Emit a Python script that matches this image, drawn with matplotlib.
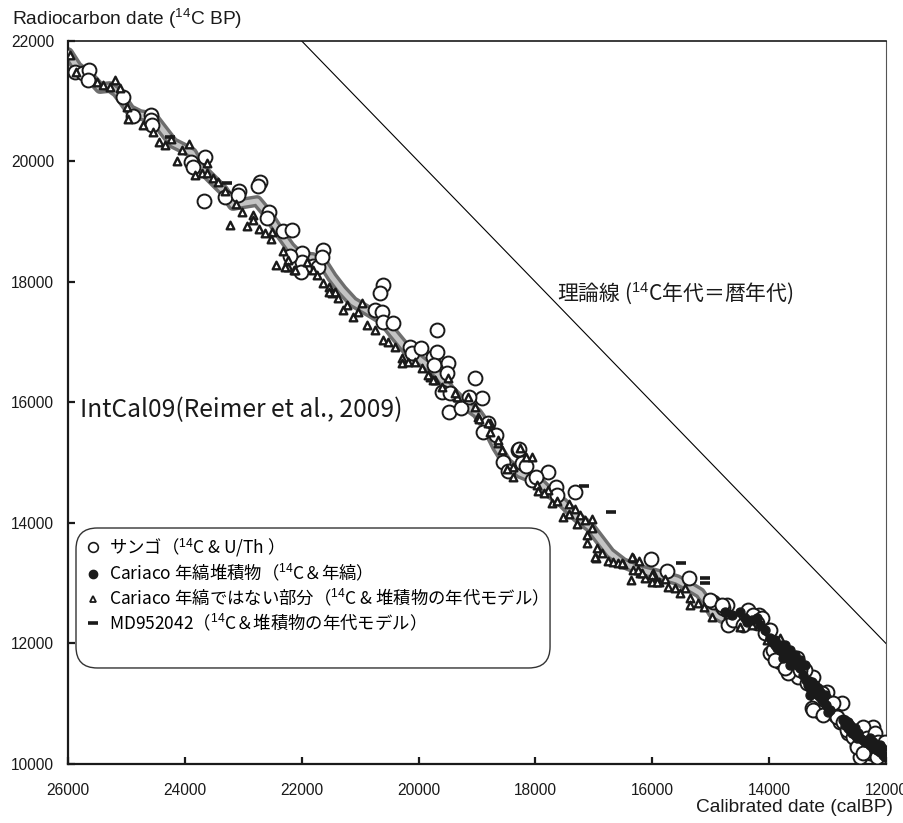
import matplotlib.pyplot as plt
from matplotlib.lines import Line2D
from matplotlib.patches import FancyBboxPatch
from matplotlib.font_manager import FontProperties

plt.rcParams['font.family'] = ['Liberation Sans', 'DejaVu Sans']
plt.rcParams['mathtext.fontset'] = 'custom'
plt.rcParams['mathtext.rm'] = 'Liberation Sans'
plt.rcParams['mathtext.it'] = 'Liberation Sans:italic'
plt.rcParams['mathtext.bf'] = 'Liberation Sans:bold'

JP = ['Noto Sans CJK JP', 'DejaVu Sans']

# IntCal09 calibration curve (cal BP, 14C BP)
curve_cal = [26000, 25846, 25624, 25452, 25281, 25161, 25059, 24939, 24768, 24545,
             24374, 24203, 24032, 23878, 23741, 23519, 23347, 23176, 22971, 22765,
             22594, 22372, 22201, 22030, 21807, 21636, 21482, 21311, 21122, 20831,
             20609, 20438, 20198, 19976, 19685, 19462, 19240, 19000, 18829, 18658,
             18487, 18264, 17973, 17751, 17528, 17289, 17066, 16895, 16724, 16501,
             16210, 15868, 15577, 15355, 15184, 15064, 14961, 14807]
curve_c14 = [21800, 21568, 21402, 21219, 21236, 21153, 21020, 20854, 20771, 20738,
             20522, 20307, 20224, 20141, 19908, 19692, 19526, 19277, 19311, 19344,
             19145, 18813, 18580, 18414, 18398, 18315, 18082, 17867, 17667, 17501,
             17369, 17153, 16871, 16705, 16489, 16207, 15991, 15825, 15593, 15261,
             14995, 14829, 14713, 14497, 14331, 14099, 13933, 13717, 13501, 13335,
             13219, 13136, 13053, 12937, 12837, 12671, 12505, 12422]

# corals (14C & U/Th)
coral_cal = [25880, 25743, 25641, 25658, 25059, 24888, 24580, 24580, 24562, 23895,
             23861, 23655, 23672, 23313, 23073, 23091, 22714, 22748, 22560, 22594,
             22320, 22166, 21995, 21995, 22012, 22201, 21807, 21721, 21636, 21653,
             20609, 20660, 20746, 20626, 20609, 20438, 20147, 20113, 19959, 19753,
             19685, 19685, 19736, 19497, 19599, 19462, 19479, 19274, 19034, 18915,
             18812, 18897, 18675, 18298, 18230, 18555, 18059, 17785, 19514, 19137,
             18470, 18281, 18161, 17990, 17648, 17631, 17323,
             16022, 15748, 15372, 14961, 14721, 14704, 14362, 14174, 14020, 13934,
             13643, 13472, 13250, 13181, 13061, 12873, 12753, 12787, 12650, 12496,
             12360, 12223, 12188, 12445, 12274, 12103, 12051, 14790, 13985, 13814,
             13386, 13506, 13010, 13266, 13130, 12616, 12496, 12240, 12137, 13677,
             12958, 12839,
             15012, 14807, 14619, 14448, 14276, 14122, 14071, 13934, 13900, 13729,
             13523, 13472, 13352, 13215, 13096, 13044, 13250, 13078, 12907, 12736,
             12668, 12565, 12394, 12325, 12496, 12188, 12137, 12394, 12154, 12017,
             14208, 13985]
coral_c14 = [21485, 21468, 21518, 21352, 21070, 20755, 20771, 20688, 20605, 19991,
             19908, 20074, 19344, 19410, 19510, 19443, 19659, 19593, 19161, 19062,
             18846, 18863, 18481, 18331, 18165, 18431, 18265, 18248, 18531, 18414,
             17950, 17817, 17535, 17501, 17335, 17319, 16921, 16821, 16904, 16755,
             17203, 16838, 16622, 16655, 16174, 16157, 15842, 15908, 16406, 16074,
             15659, 15510, 15460, 15211, 14995, 15012, 14713, 14846, 16489, 16091,
             14862, 15228, 14945, 14763, 14597, 14464, 14514,
             13402, 13203, 13086, 12688, 12638, 12306, 12555, 12472, 12223, 11808,
             11725, 11526, 11443, 11012, 10862, 10812, 11012, 10696, 10514, 10398,
             10514, 10613, 10348, 10115, 10182, 10281, 10182, 12588, 11842, 11692,
             11559, 11443, 11194, 10929, 10862, 10563, 10315, 10182, 10281, 11510,
             10978, 10779,
             12721, 12638, 12389, 12306, 12472, 12422, 12174, 11891, 11725, 11592,
             11758, 11559, 11344, 11227, 11178, 11061, 10895, 10812, 11012, 10696,
             10563, 10447, 10613, 10431, 10281, 10514, 10364, 10182, 10115, 10364,
             12339, 12223]

# Cariaco, non-varved part (14C & sediment age model)
tri_cal = [25966, 25863, 25504, 25401, 25281, 25196, 25110, 24990, 24973, 24717,
           24545, 24443, 24340, 24237, 24135, 24049, 23929, 23827, 23707, 23621,
           23519, 23433, 23621, 23313, 23125, 23022, 23228, 22937, 22834, 22834,
           22731, 22629, 22509, 22526, 22320, 22440, 22235, 22235, 22132, 21910,
           21807, 21739, 21636, 21533, 21482, 21430, 21225, 22286, 22115,
           21533, 21379, 21294, 21122, 20968, 21037, 20883, 20746, 20609, 20523,
           20404, 20284, 20284, 20181, 20061, 19942, 19805, 19719, 19599, 19497,
           19342, 19154, 18983, 18778, 18641, 18572, 18384, 18384, 18059, 17973,
           17785,
           19839, 19753, 19377, 19034, 18966, 18812, 18778, 18641, 18487, 18264,
           18161, 17956, 17853, 17717, 17631, 17528, 17426, 17426, 17323, 17237,
           17289, 17152, 17032, 17032, 17117, 17117, 16946, 16861, 16963, 16758,
           16673, 16587, 16501, 16330, 16227, 16330, 16210, 16364, 16125, 15988,
           15988, 15885, 15731, 15611,
           16981, 16518, 16347, 16245, 16176, 16005, 16005, 15919, 15782, 15440,
           15526, 15355, 15355, 15218, 15115, 14978, 14704, 14499, 14293, 14037,
           13814]
tri_c14 = [21767, 21485, 21319, 21269, 21236, 21352, 21219, 20904, 20705, 20605,
           20489, 20323, 20273, 20373, 20008, 20190, 20290, 19775, 19809, 19809,
           19726, 19659, 19975, 19510, 19294, 19161, 18945, 18929, 19111, 19028,
           18879, 18813, 18829, 18713, 18514, 18282, 18365, 18248, 18199, 18331,
           18199, 18116, 17983, 17916, 17817, 17833, 17618, 18248, 18199,
           17833, 17734, 17535, 17418, 17651, 17501, 17286, 17203, 17037, 17004,
           16921, 16738, 16655, 16672, 16672, 16572, 16423, 16373, 16257, 16406,
           16091, 16091, 15759, 15659, 15327, 15211, 14929, 14763, 15095, 14630,
           14547,
           16456, 16373, 16157, 15925, 15725, 15659, 15510, 15377, 14896, 15244,
           15095, 14530, 14497, 14331, 14364, 14099, 14315, 14149, 14232, 14132,
           13983, 14049, 14066, 13916, 13800, 13667, 13584, 13501, 13418, 13368,
           13352, 13335, 13319, 13418, 13368, 13219, 13169, 13053, 13086, 13169,
           13053, 13020, 12937, 12920,
           13435, 13335, 13435, 13219, 13169, 13136, 13020, 13020, 13070, 12920,
           12837, 12754, 12638, 12671, 12605, 12439, 12489, 12273, 12306, 12057,
           12091]

# Cariaco varved sediment (14C & varves)
dot_cal = [14756, 14636, 14499, 14413, 14379, 14293, 14208, 14157, 14071, 13985,
           13951, 13900, 13866, 13814, 13763, 13729, 13677, 13643, 13592, 13558,
           13523, 13472, 13421, 13369, 13335, 13301, 13250, 13215, 13164, 13130,
           13078, 13027, 12993, 12958, 12736, 12702, 12650, 12616, 12582, 12531,
           12496, 12445, 12394, 12360, 12325, 12274, 12223, 12171, 12154, 12103,
           12051, 12017,
           13900, 13814, 13729, 13643, 13558, 13643, 13472, 13386, 13266, 13215,
           13164, 13130, 13301, 13044, 12650, 12616, 12531, 12479, 12274, 12223,
           12103, 12069]
dot_c14 = [12522, 12472, 12522, 12422, 12356, 12389, 12422, 12306, 12223, 12091,
           12024, 11974, 11924, 11891, 11758, 11858, 11808, 11725, 11692, 11758,
           11642, 11592, 11476, 11393, 11310, 11261, 11227, 11194, 11144, 11111,
           11061, 10978, 10862, 10895, 10729, 10646, 10597, 10563, 10514, 10480,
           10431, 10431, 10398, 10364, 10364, 10315, 10265, 10315, 10231, 10198,
           10148, 10115,
           12057, 11974, 11974, 11891, 11808, 11642, 11725, 11642, 11360, 11310,
           11261, 11194, 11144, 11144, 10696, 10646, 10597, 10514, 10431, 10364,
           10315, 10265]

# MD952042
md_cal = [24254, 23279, 17169, 16707, 15509, 15098, 15098]
md_c14 = [20406, 19643, 14613, 14182, 13335, 13086, 13003]

# 1:1 line (14C age = calendar age)
theory = [26000, 12000]

fig = plt.figure(figsize=(9.04, 8.23), dpi=100)
ax = fig.add_axes([0.0752, 0.0717, 0.9049, 0.8785])

ax.plot(theory, theory, color='black', lw=0.8, zorder=1)

# calibration band: dark outline with lighter centre
ax.plot(curve_cal, curve_c14, color='#6e6e6e', lw=8.5,
        solid_capstyle='round', solid_joinstyle='round', zorder=2)
ax.plot(curve_cal, curve_c14, color='#c4c4c4', lw=3.6,
        solid_capstyle='round', solid_joinstyle='round', zorder=3)

ax.scatter(coral_cal, coral_c14, s=100, marker='o', facecolor='white',
           edgecolor='#1a1a1a', linewidths=1.4, zorder=4)
ax.scatter(tri_cal, tri_c14, s=30, marker='^', facecolor='white',
           edgecolor='#1a1a1a', linewidths=1.7, zorder=5)
ax.scatter(dot_cal, dot_c14, s=42, marker='o', color='#1a1a1a', zorder=6)
ax.scatter(md_cal, md_c14, s=55, marker='_', color='#1a1a1a',
           linewidths=2.6, zorder=7)

ax.set_xlim(26000, 12000)
ax.set_ylim(10000, 22000)
ax.set_xticks([26000, 24000, 22000, 20000, 18000, 16000, 14000, 12000])
ax.set_yticks([10000, 12000, 14000, 16000, 18000, 20000, 22000])
ax.tick_params(axis='both', direction='in', length=5, width=1.6,
               labelsize=11.2, colors='#1a1a1a')
ax.tick_params(axis='x', pad=14)
ax.tick_params(axis='y', pad=10)

for side in ['left', 'bottom']:
    ax.spines[side].set_linewidth(1.6)
    ax.spines[side].set_color('#1a1a1a')
ax.spines['top'].set_linewidth(1.2)
ax.spines['top'].set_color('#1a1a1a')
ax.spines['right'].set_linewidth(0.8)
ax.spines['right'].set_color('#555555')

fig.text(12 / 904, 1 - 19 / 823, 'Radiocarbon date ($^{14}$C BP)',
         ha='left', va='center', fontsize=13.8, color='#1a1a1a')
fig.text(893 / 904, 1 - 808 / 823, 'Calibrated date (calBP)',
         ha='right', va='center', fontsize=13.8, color='#1a1a1a')

ax.text(0.0147, 0.4896, 'IntCal09(Reimer et al., 2009)', transform=ax.transAxes,
        family=JP, fontsize=17.7, va='center', color='#1a1a1a')
ax.text(0.598, 0.6515, '理論線 ($^{14}$C年代＝暦年代)', transform=ax.transAxes,
        family=JP, fontsize=15, va='center', color='#1a1a1a')

# legend: rounded frame drawn separately, entries from ax.legend
box = FancyBboxPatch((0.0098, 0.1328), 0.5795, 0.1936,
                     boxstyle='round,pad=0,rounding_size=0.026',
                     mutation_aspect=818 / 723,
                     transform=ax.transAxes, facecolor='white',
                     edgecolor='#333333', linewidth=1.0, zorder=8)
ax.add_patch(box)

handles = [
    Line2D([], [], ls='none', marker='o', ms=7, mfc='white', mec='#1a1a1a', mew=1.2),
    Line2D([], [], ls='none', marker='o', ms=6, color='#1a1a1a'),
    Line2D([], [], ls='none', marker='^', ms=5, mfc='white', mec='#1a1a1a', mew=1.3),
    Line2D([], [], ls='none', marker='_', ms=7, mew=2.6, color='#1a1a1a'),
]
labels = [
    'サンゴ（$^{14}$C & U/Th ）',
    'Cariaco 年縞堆積物（$^{14}$C＆年縞）',
    'Cariaco 年縞ではない部分（$^{14}$C & 堆積物の年代モデル）',
    'MD952042（$^{14}$C＆堆積物の年代モデル）',
]
leg = ax.legend(handles, labels, loc='upper left', bbox_to_anchor=(0.0098, 0.3292),
                prop=FontProperties(family=JP, size=12.5), frameon=False,
                handlelength=0.8, handletextpad=0.5, labelspacing=0.2,
                borderpad=0.6, borderaxespad=0)
leg.set_zorder(9)

fig.savefig('out.png', dpi=100)
